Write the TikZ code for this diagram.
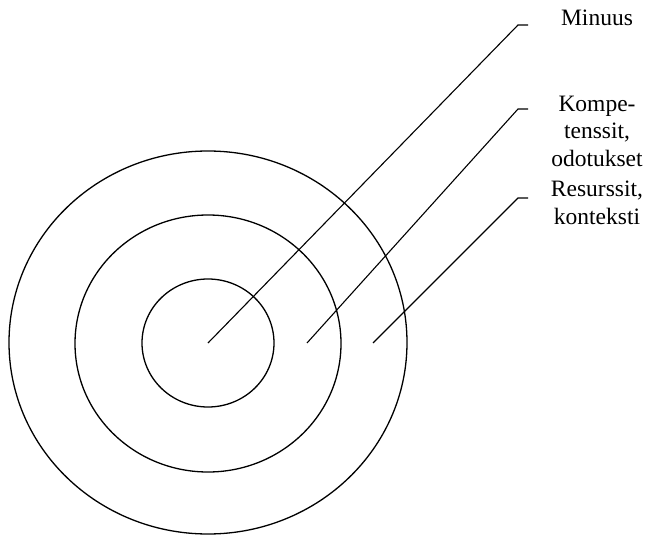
\documentclass[tikz,border=0pt]{standalone}
\usepackage{fontspec}
\setmainfont{Liberation Serif}
\usetikzlibrary{shapes.geometric, positioning}

\begin{document}
\begin{tikzpicture}[
  x=1pt, y=-1pt,
  ring/.style={
    ellipse, draw=black, line width=1.3pt,
    inner sep=0pt, outer sep=0pt
  },
  leader/.style={draw=black, line width=1.1pt},
  tag/.style={
    anchor=base, align=center, inner sep=0pt,
    font=\fontsize{23.5}{27.5}\selectfont
  }
]
\useasboundingbox (0,0) rectangle (646,535);

% Kehat
\node[ring, minimum width=398pt, minimum height=383pt] (outer) at (208,342.5) {};
\node[ring, minimum width=266pt, minimum height=257pt] (middle) at (208,343.5) {};
\node[ring, minimum width=132pt, minimum height=128pt] (inner) at (208,343) {};

% Tekstit (base = viimeisen rivin pohjaviiva)
\node[tag] (minuus) at (597,26) {Minuus};
\node[tag] (komp) at (597,166) {Kompe-\\tenssit,\\odotukset};
\node[tag] (res) at (597,224) {Resurssit,\\konteksti};

% Viivat
\coordinate (k0) at (307,343);
\coordinate (r0) at (373,343);
\coordinate (m1) at (518,25);
\coordinate (m2) at (528,25);
\coordinate (k1) at (518,109);
\coordinate (k2) at (528,109);
\coordinate (r1) at (518,198);
\coordinate (r2) at (528,198);

\draw[leader] (inner.center) -- (m1) -- (m2);
\draw[leader] (k0) -- (k1) -- (k2);
\draw[leader] (r0) -- (r1) -- (r2);

\end{tikzpicture}
\end{document}
